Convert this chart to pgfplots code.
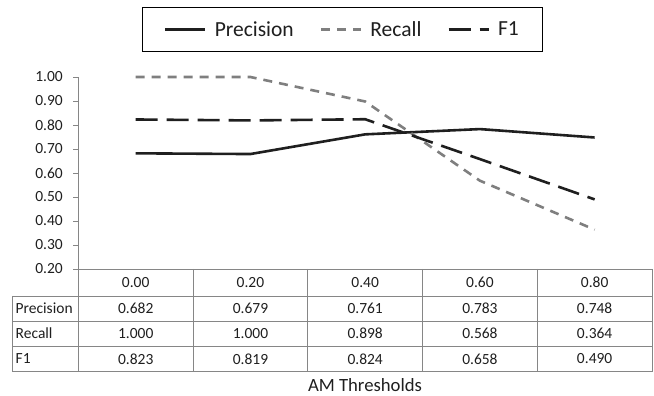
\documentclass[border=0pt]{standalone}
\usepackage{fontspec}
\setmainfont{Carlito}
\usepackage{pgfplots}
\pgfplotsset{compat=1.18}
\definecolor{axgray}{HTML}{868686}
\definecolor{dark}{HTML}{1F1F1F}
\definecolor{recg}{HTML}{7F7F7F}
\begin{document}
\begin{tikzpicture}[x=1pt,y=1pt]
\path[use as bounding box] (0,0) rectangle (654,396);
\begin{axis}[
  at={(78.3pt,127pt)}, anchor=south west, scale only axis,
  width=573.7pt, height=192pt,
  xmin=-0.5, xmax=4.5, ymin=0.2, ymax=1.0,
  axis x line*=bottom, axis y line*=left,
  axis line style={axgray, line width=0.8pt, -},
  xtick={0,1,2,3,4}, xticklabels={},
  x tick style={draw=none},
  ytick={0.2,0.3,0.4,0.5,0.6,0.7,0.8,0.9,1.0},
  yticklabel style={xshift=-7pt, /pgf/number format/.cd, fixed, fixed zerofill, precision=2},
  /pgf/number format/assume math mode=true,
  tick label style={font=\fontsize{15.5}{18}\selectfont, text=dark},
  y tick style={axgray, line width=0.8pt},
  major tick length=5pt, tick align=outside,
  clip=false,
  legend columns=3,
  legend style={at={(0.4605,1.246)}, anchor=center, draw=black, line width=1pt,
    font=\fontsize{21.5}{24}\selectfont, text=dark, inner xsep=22pt, inner ysep=12pt,
    /tikz/every odd column/.append style={column sep=6pt},
    /tikz/every even column/.append style={column sep=24pt}},
  legend image code/.code={\draw[#1] (0pt,0pt) -- (40pt,0pt);},
]
\addplot[dark, line width=2.6pt] coordinates {(0,0.682) (1,0.679) (2,0.761) (3,0.783) (4,0.748)};
\addlegendentry{Precision}
\addplot[recg, line width=2.6pt, dash pattern=on 9pt off 7pt] coordinates {(0,1.000) (1,1.000) (2,0.898) (3,0.568) (4,0.364)};
\addlegendentry{Recall}
\addplot[dark, line width=2.6pt, dash pattern=on 22pt off 9pt] coordinates {(0,0.823) (1,0.819) (2,0.824) (3,0.658) (4,0.490)};
\addlegendentry{F1}
\end{axis}
% data table grid
\begin{scope}[axgray, line width=0.8pt]
\foreach \k in {0,...,5} { \draw (78.3+114.74*\k,127) -- (78.3+114.74*\k,24.3); }
\draw (78.3,127) -- (652,127);
\foreach \yy in {100,75,50,24.3} { \draw (12.7,\yy) -- (652,\yy); }
\draw (12.7,100) -- (12.7,24.3);
\end{scope}
\begin{scope}[font=\fontsize{15.5}{18}\selectfont, text=dark]
\foreach \lab [count=\i from 0] in {0.00,0.20,0.40,0.60,0.80} { \node at (135.7+114.74*\i,113.5) {\lab}; }
\foreach \lab [count=\i from 0] in {0.682,0.679,0.761,0.783,0.748} { \node at (135.7+114.74*\i,87.5) {\lab}; }
\foreach \lab [count=\i from 0] in {1.000,1.000,0.898,0.568,0.364} { \node at (135.7+114.74*\i,62.5) {\lab}; }
\foreach \lab [count=\i from 0] in {0.823,0.819,0.824,0.658,0.490} { \node at (135.7+114.74*\i,37) {\lab}; }
\node[anchor=west, inner sep=2pt] at (13.5,87.5) {Precision};
\node[anchor=west, inner sep=2pt] at (13.5,62.5) {Recall};
\node[anchor=west, inner sep=2pt] at (13.5,37) {F1};
\end{scope}
\node[font=\fontsize{18.7}{22}\selectfont, text=dark] at (365,11) {AM Thresholds};
\end{tikzpicture}
\end{document}
